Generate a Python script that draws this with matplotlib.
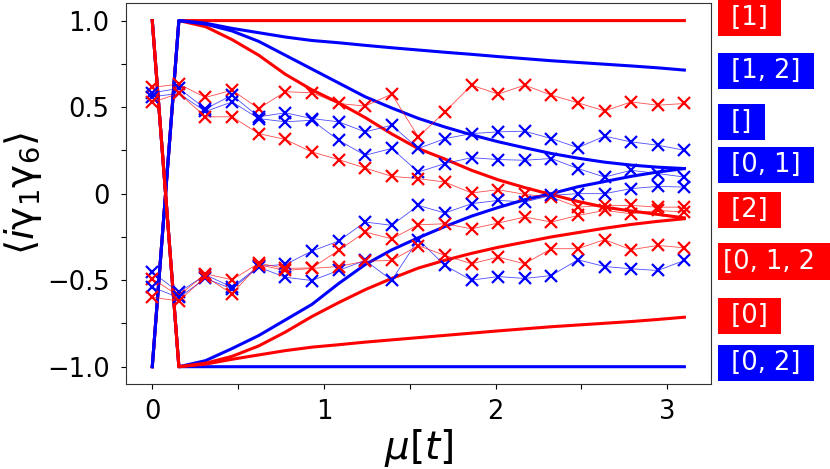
import numpy as np
import matplotlib
matplotlib.use('Agg')
import matplotlib.pyplot as plt
from matplotlib.transforms import Bbox, TransformedBbox, blended_transform_factory

# time steps
mu = [0.0, 0.155, 0.31, 0.465, 0.62, 0.775, 0.93, 1.085, 1.24, 1.395, 1.55,
      1.705, 1.86, 2.015, 2.17, 2.325, 2.48, 2.635, 2.79, 2.945, 3.1]

# exact curves, one per sector
exact_1 = [-1.0, 1.0, 1.0, 1.0, 1.0, 1.0, 1.0, 1.0, 1.0, 1.0, 1.0,
           1.0, 1.0, 1.0, 1.0, 1.0, 1.0, 1.0, 1.0, 1.0, 1.0]
exact_2 = [-1.0, 1.0, 0.965, 0.89, 0.8, 0.69, 0.6, 0.525, 0.44, 0.345, 0.26,
           0.2, 0.135, 0.08, 0.035, -0.005, -0.045, -0.078, -0.1, -0.12, -0.14]
exact_12 = [-1.0, 1.0, 0.985, 0.955, 0.93, 0.905, 0.885, 0.872, 0.857, 0.843, 0.83,
            0.817, 0.805, 0.792, 0.78, 0.768, 0.758, 0.748, 0.738, 0.727, 0.714]
exact_none = [-1.0, 1.0, 0.98, 0.94, 0.88, 0.8, 0.72, 0.64, 0.56, 0.495, 0.435,
              0.385, 0.34, 0.3, 0.265, 0.232, 0.205, 0.182, 0.165, 0.153, 0.145]
exact_02 = [1.0, -1.0, -1.0, -1.0, -1.0, -1.0, -1.0, -1.0, -1.0, -1.0, -1.0,
            -1.0, -1.0, -1.0, -1.0, -1.0, -1.0, -1.0, -1.0, -1.0, -1.0]
exact_01 = [1.0, -1.0, -0.965, -0.895, -0.82, -0.73, -0.64, -0.52, -0.41, -0.325, -0.255,
            -0.19, -0.13, -0.08, -0.035, 0.0, 0.04, 0.07, 0.1, 0.125, 0.145]
exact_0 = [1.0, -1.0, -0.985, -0.957, -0.932, -0.907, -0.887, -0.873, -0.858, -0.845, -0.832,
           -0.819, -0.806, -0.793, -0.781, -0.769, -0.759, -0.749, -0.739, -0.727, -0.714]
exact_012 = [1.0, -1.0, -0.98, -0.94, -0.88, -0.8, -0.71, -0.63, -0.555, -0.49, -0.43,
             -0.385, -0.345, -0.31, -0.28, -0.25, -0.225, -0.2, -0.178, -0.16, -0.145]

# noisy runs
noisy_r1 = [0.614, 0.633, 0.556, 0.598, 0.492, 0.589, 0.583, 0.521, 0.506, 0.575, 0.328,
            0.473, 0.627, 0.575, 0.627, 0.569, 0.525, 0.478, 0.53, 0.511, 0.521]
noisy_b1 = [0.583, 0.608, 0.49, 0.569, 0.444, 0.467, 0.434, 0.415, 0.357, 0.395, 0.261,
            0.318, 0.347, 0.357, 0.361, 0.318, 0.266, 0.332, 0.299, 0.28, 0.251]
noisy_b2 = [0.56, 0.579, 0.475, 0.53, 0.434, 0.415, 0.424, 0.309, 0.222, 0.261, 0.125,
            0.174, 0.208, 0.197, 0.193, 0.203, 0.145, 0.096, 0.135, 0.116, 0.096]
noisy_r2 = [0.527, 0.58, 0.444, 0.444, 0.347, 0.313, 0.241, 0.197, 0.148, 0.1, 0.087,
            0.067, 0.004, 0.023, -0.004, -0.02, -0.078, -0.068, -0.068, -0.078, -0.078]
noisy_b3 = [-0.454, -0.57, -0.47, -0.54, -0.42, -0.409, -0.332, -0.274, -0.164, -0.183, -0.068,
            -0.112, -0.058, -0.039, -0.048, -0.01, 0.0, 0.0, 0.029, 0.042, 0.038]
noisy_r3 = [-0.492, -0.59, -0.463, -0.498, -0.402, -0.432, -0.429, -0.328, -0.222, -0.261, -0.18,
            -0.174, -0.203, -0.17, -0.135, -0.164, -0.126, -0.097, -0.116, -0.097, -0.106]
noisy_b4 = [-0.541, -0.6, -0.49, -0.55, -0.425, -0.483, -0.502, -0.444, -0.386, -0.5, -0.265,
            -0.415, -0.5, -0.479, -0.49, -0.473, -0.382, -0.421, -0.434, -0.444, -0.386]
noisy_r4 = [-0.599, -0.62, -0.48, -0.579, -0.41, -0.444, -0.432, -0.421, -0.39, -0.386, -0.3,
            -0.357, -0.405, -0.367, -0.405, -0.318, -0.318, -0.266, -0.324, -0.299, -0.313]

# sector labels on the right
labels = [' [1] ', ' [1, 2] ', ' [] ', ' [0, 1] ', ' [2] ', '[0, 1, 2]', ' [0] ', ' [0, 2] ']
label_colors = ['r', 'b', 'b', 'b', 'r', 'r', 'r', 'b']
label_y = [1.015, 0.708, 0.413, 0.164, -0.094, -0.392, -0.705, -0.98]

FS = 18.5

fig = plt.figure(figsize=(8.3, 4.69), dpi=100)
ax = fig.add_axes([0.1514, 0.1812, 0.7052, 0.8118])

# thick exact lines (order picks which colour ends up on top)
for ys, c in [(exact_1, 'r'), (exact_2, 'r'), (exact_12, 'b'), (exact_none, 'b'),
              (exact_02, 'b'), (exact_01, 'b'), (exact_0, 'r'), (exact_012, 'r')]:
    ax.plot(mu, ys, '-', color=c, lw=2.2)

# noisy runs
for ys, c in [(noisy_r1, 'r'), (noisy_b1, 'b'), (noisy_b2, 'b'), (noisy_r2, 'r'),
              (noisy_b3, 'b'), (noisy_r3, 'r'), (noisy_b4, 'b'), (noisy_r4, 'r')]:
    ax.plot(mu, ys, '-', color=c, lw=0.6, alpha=0.7)
    ax.plot(mu, ys, 'x', color=c, ms=9, mew=1.6, ls='none')

ax.set_xticks([0, 0.5, 1, 1.5, 2, 2.5, 3])
ax.set_xticklabels(['0', '', '1', '', '2', '', '3'])
ax.set_yticks([-1, -0.75, -0.5, -0.25, 0, 0.25, 0.5, 0.75, 1])
ax.set_yticklabels(['\u22121.0', '', '\u22120.5', '', '0', '', '0.5', '', '1.0'])
ax.tick_params(axis='x', labelsize=FS, pad=7)
ax.tick_params(axis='y', labelsize=FS, pad=8)
for s in ax.spines.values():
    s.set_color('#333333')

ax.set_xlabel(r'$\mu[t]$', fontsize=28, labelpad=2)
ax.set_ylabel(r'$\langle i\mathrm{\gamma}_1\mathrm{\gamma}_6\rangle$', fontsize=28, labelpad=2)

trans = blended_transform_factory(ax.transAxes, ax.transData)
for lab, c, y in zip(labels, label_colors, label_y):
    t = ax.text(1.0205, y, lab, transform=trans, fontsize=FS, color='white',
                va='center', ha='left', clip_on=False,
                bbox=dict(boxstyle='square,pad=0.2', facecolor=c, edgecolor='none'))
    if lab.endswith(']') and not lab.startswith(' '):
        # the long label runs off the right edge in the original
        t.set_clip_box(TransformedBbox(Bbox([[0, 0], [813 / 830, 1]]), fig.transFigure))
        t.set_clip_on(True)
        t.get_bbox_patch().set_clip_on(False)

fig.savefig('out.png', dpi=100)
